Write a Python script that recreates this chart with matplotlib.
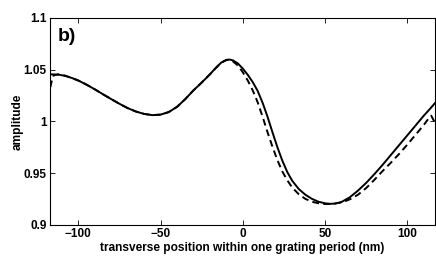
import matplotlib
matplotlib.use('Agg')
import matplotlib.pyplot as plt

# data
x_solid = [-117, -112, -108, -104, -100, -95, -90, -85, -80, -75, -70, -65, -60, -55,
           -50, -45, -40, -35, -30, -25, -20, -16, -13, -10, -8, -6, -3, 0, 3, 6, 9,
           12, 15, 18, 21, 24, 27, 30, 34, 38, 42, 46, 50, 53, 56, 60, 65, 70, 75,
           80, 85, 90, 95, 100, 105, 110, 114, 117]
y_solid = [1.0455, 1.0452, 1.0440, 1.0420, 1.0395, 1.0355, 1.0310, 1.0262, 1.0215,
           1.0170, 1.0128, 1.0095, 1.0072, 1.0060, 1.0065, 1.0090, 1.0140, 1.0215,
           1.0300, 1.0375, 1.0455, 1.0525, 1.0570, 1.0595, 1.0598, 1.0590, 1.0560,
           1.0510, 1.0450, 1.0380, 1.0295, 1.0180, 1.0045, 0.9895, 0.9750, 0.9620,
           0.9510, 0.9425, 0.9345, 0.9290, 0.9250, 0.9222, 0.9207, 0.9202, 0.9204,
           0.9220, 0.9265, 0.9330, 0.9405, 0.9490, 0.9580, 0.9675, 0.9770, 0.9865,
           0.9960, 1.0055, 1.0125, 1.0180]

x_dash = [-117, -116, -115, -112, -108, -104, -100, -95, -90, -85, -80, -75, -70, -65,
          -60, -55, -50, -45, -40, -35, -30, -25, -20, -16, -13, -10, -8, -6, -3, 0,
          3, 6, 9, 12, 15, 18, 21, 24, 27, 30, 34, 38, 42, 46, 50, 53, 56, 60, 65, 70,
          75, 80, 85, 90, 95, 100, 105, 110, 113, 114.5, 116, 117]
y_dash = [1.0330, 1.0400, 1.0445, 1.0455, 1.0442, 1.0420, 1.0395, 1.0355, 1.0310,
          1.0262, 1.0215, 1.0170, 1.0128, 1.0095, 1.0072, 1.0060, 1.0065, 1.0090,
          1.0140, 1.0215, 1.0300, 1.0375, 1.0455, 1.0522, 1.0568, 1.0593, 1.0592,
          1.0580, 1.0540, 1.0475, 1.0395, 1.0300, 1.0185, 1.0045, 0.9895, 0.9755,
          0.9625, 0.9515, 0.9430, 0.9360, 0.9295, 0.9250, 0.9222, 0.9207, 0.9200,
          0.9200, 0.9205, 0.9215, 0.9245, 0.9290, 0.9355, 0.9435, 0.9520, 0.9600,
          0.9685, 0.9775, 0.9870, 0.9965, 1.0030, 1.0055, 1.0010, 0.9975]

x_ticks = [-100, -50, 0, 50, 100]
y_ticks = [0.9, 0.95, 1.0, 1.05, 1.1]
y_ticklabels = ['0.9', '0.95', '1', '1.05', '1.1']

plt.rcParams['font.family'] = ['Liberation Sans', 'DejaVu Sans']
plt.rcParams['font.weight'] = 'bold'

fig = plt.figure(figsize=(4.36, 2.57), dpi=100)
ax = fig.add_axes([0.1147, 0.1257, 0.883, 0.8043])

ax.plot(x_solid, y_solid, color='black', linewidth=1.4)
ax.plot(x_dash, y_dash, color='black', linewidth=1.4, dashes=(3.5, 2.2))

ax.set_xlim(-117.2, 116.8)
ax.set_ylim(0.9, 1.1)
ax.set_xticks(x_ticks)
ax.set_xticklabels([str(t).replace('-', '\u2212') for t in x_ticks])
ax.set_yticks(y_ticks)
ax.set_yticklabels(y_ticklabels)
ax.tick_params(direction='in', length=3.5, width=0.6, top=True, right=True,
               labelsize=8.5, pad=2.5)
for s in ax.spines.values():
    s.set_linewidth(0.8)

ax.set_xlabel('transverse position within one grating period (nm)', fontsize=8.6,
              fontweight='bold', labelpad=1)
ax.set_ylabel('amplitude', fontsize=8.6, fontweight='bold')
ax.yaxis.set_label_coords(-0.068, 0.5)
ax.text(0.02, 0.95, 'b)', transform=ax.transAxes, fontsize=14, fontweight='bold',
        va='top', ha='left')

fig.savefig('out.png', dpi=100)
